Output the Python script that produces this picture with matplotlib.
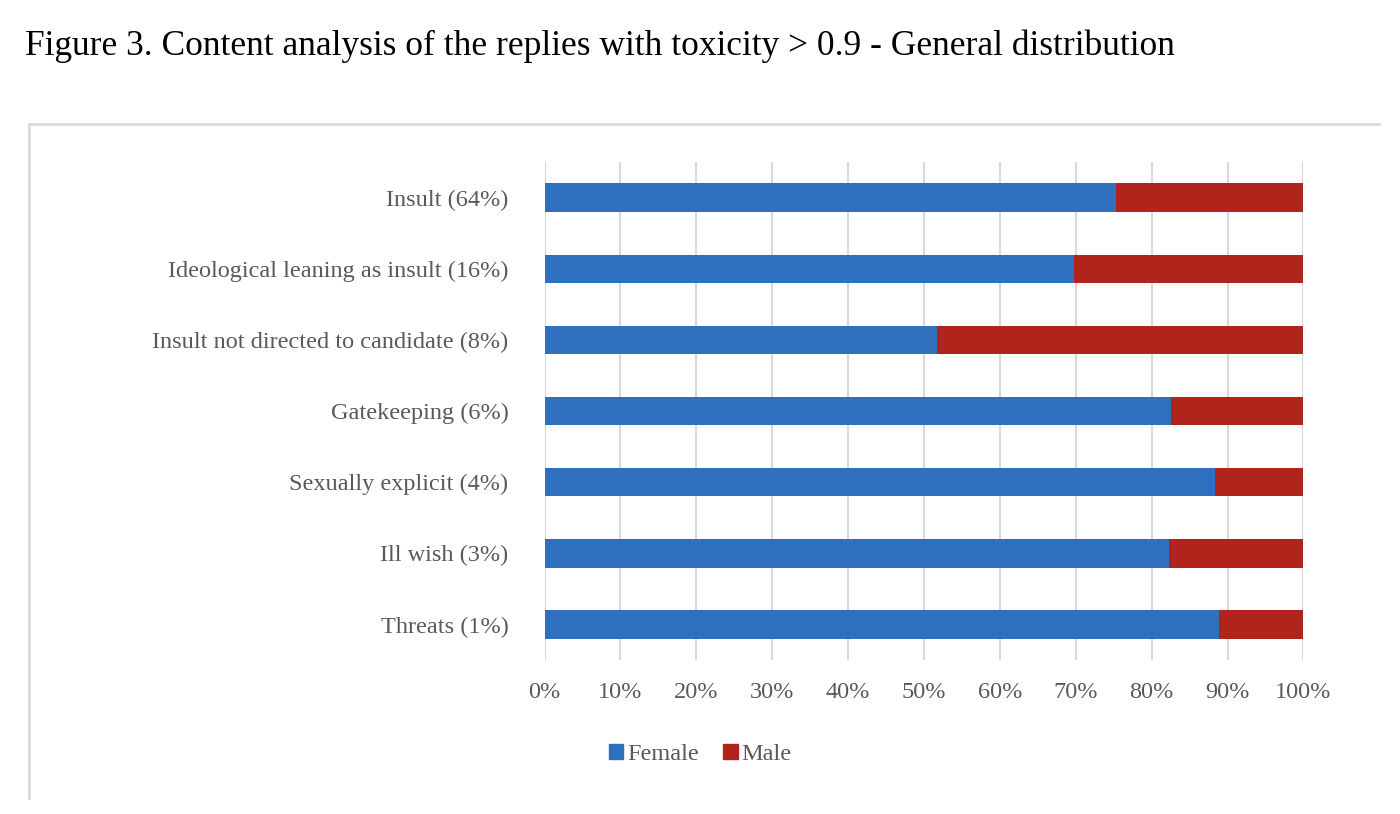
import matplotlib.pyplot as plt
from matplotlib.patches import Rectangle
from matplotlib.lines import Line2D

categories = ["Insult (64%)", "Ideological leaning as insult (16%)",
              "Insult not directed to candidate (8%)", "Gatekeeping (6%)",
              "Sexually explicit (4%)", "Ill wish (3%)", "Threats (1%)"]
female = [75.3, 69.8, 51.7, 82.6, 88.3, 82.3, 88.9]
male = [100 - f for f in female]
ticks = list(range(0, 101, 10))

plt.rcParams["font.family"] = ["Liberation Serif", "DejaVu Serif"]

fig = plt.figure(figsize=(14, 8.14), dpi=100)
fig.text(0.018, 0.943, "Figure 3. Content analysis of the replies with toxicity > 0.9 - General distribution",
         fontsize=25.5, color="black", va="center")

# light frame of the chart area (top and left edges)
fig.add_artist(Line2D([0.021, 0.985], [0.848, 0.848], color="#d9d9d9", lw=2))
fig.add_artist(Line2D([0.021, 0.021], [0.848, 0.02], color="#d9d9d9", lw=2))

ax = fig.add_axes([0.389, 0.189, 0.542, 0.612])
y = list(range(len(categories)))
ax.barh(y, female, height=0.4, color="#2e6fbe", label="Female", zorder=3)
ax.barh(y, male, left=female, height=0.4, color="#b0241b", label="Male", zorder=3)
ax.set_yticks(y)
ax.set_yticklabels(categories)
ax.invert_yaxis()
ax.set_xlim(0, 100)
ax.set_ylim(len(categories) - 0.5, -0.5)
ax.set_xticks(ticks)
ax.set_xticklabels([f"{t}%" for t in ticks])
ax.tick_params(length=0, labelsize=17.5, colors="#595959", pad=16)
ax.tick_params(axis="y", pad=26)
ax.grid(axis="x", color="#d9d9d9", lw=1.5, zorder=0)
for s in ax.spines.values():
    s.set_visible(False)

handles = [Rectangle((0, 0), 1, 1, color="#2e6fbe"), Rectangle((0, 0), 1, 1, color="#b0241b")]
fig.legend(handles, ["Female", "Male"], loc="center", bbox_to_anchor=(0.5, 0.073), ncol=2,
           frameon=False, fontsize=17.5, handlelength=0.6, handleheight=0.6,
           handletextpad=0.15, columnspacing=1.0, labelcolor="#595959")

fig.savefig("out.png", dpi=100)
